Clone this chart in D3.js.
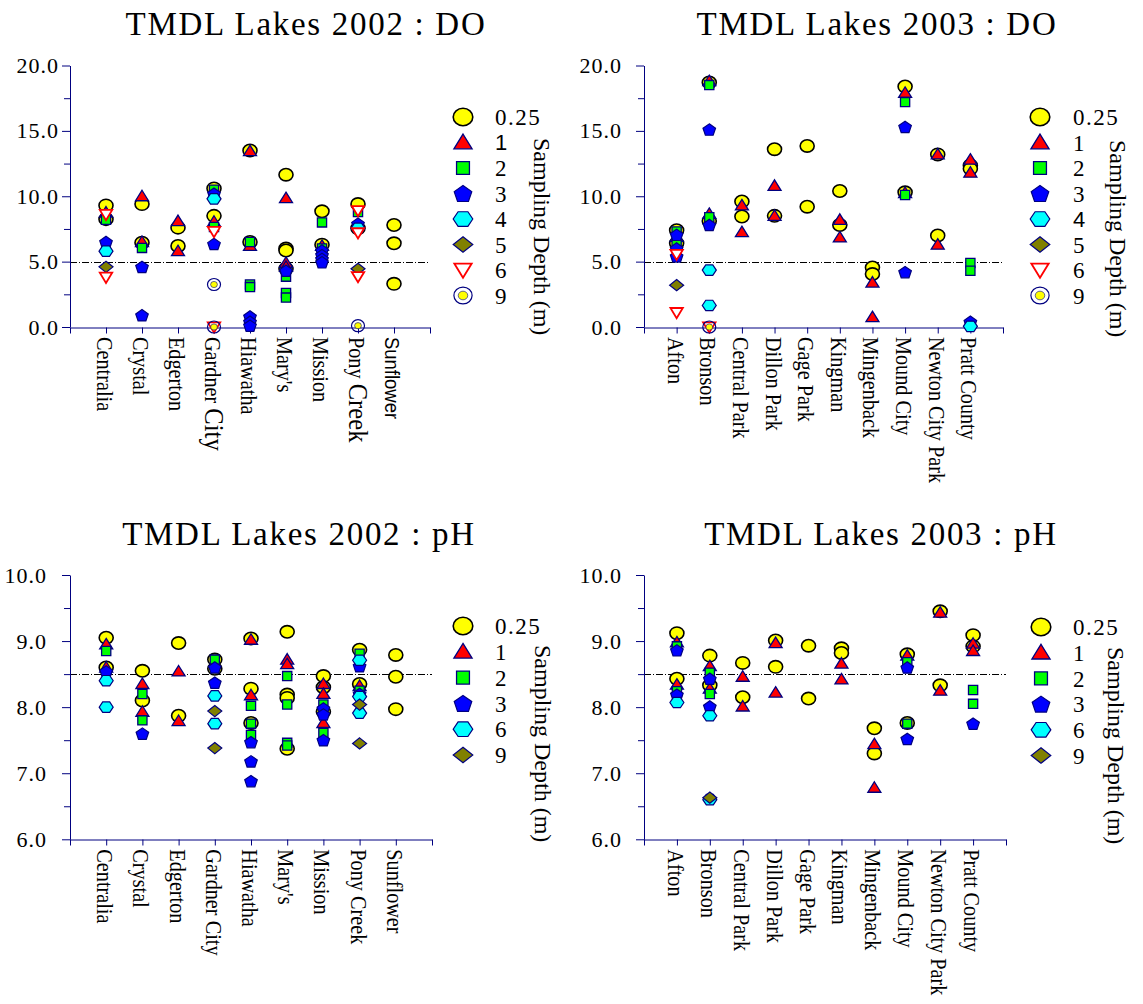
<!DOCTYPE html>
<html>
<head>
<meta charset="utf-8">
<script src="https://cdn.jsdelivr.net/npm/d3@7"></script>
<style>
  body { margin: 0; background: #fff; }
  svg { display: block; }
</style>
</head>
<body>
<svg id="chart" width="1143" height="1004"></svg>
<script>
// ---- categories and depth labels ----
const lakes2002 = ["Centralia", "Crystal", "Edgerton", "Gardner City", "Hiawatha", "Mary's", "Mission", "Pony Creek", "Sunflower"];
const lakes2003 = ["Afton", "Bronson", "Central Park", "Dillon Park", "Gage Park", "Kingman", "Mingenback", "Mound City", "Newton City Park", "Pratt County"];
const doDepths = ["0.25", "1", "2", "3", "4", "5", "6", "9"];
const phDepths = ["0.25", "1", "2", "3", "6", "9"];
const doTicks = [0, 5, 10, 15, 20];
const doMinorTicks = [2.5, 7.5, 12.5, 17.5];
const phTicks = [6, 7, 8, 9, 10];
const phMinorTicks = [6.5, 7.5, 8.5, 9.5];
const doCriterion = 5.0;
const phCriterion = 8.5;

// ---- dissolved oxygen 2002 (mg/L), one list of readings per lake ----
const do02_d025 = [[9.3, 8.25], [9.4, 6.45], [7.6, 6.2], [10.6, 8.5], [13.5, 6.5], [11.65, 6.0, 5.85, 4.45], [8.85, 6.3], [9.4, 7.55], [7.8, 6.4, 3.3]];
const do02_d1   = [[8.75], [10.0, 6.5], [8.1, 5.8], [8.05], [13.45, 6.2], [9.85, 4.9, 4.6], [6.2], [], []];
const do02_d2   = [[8.2], [6.05], [], [10.5, 7.65], [6.5, 3.25, 3.05], [3.85, 2.6, 2.25], [8.0, 6.0], [8.8], []];
const do02_d3   = [[6.5], [4.6, 0.9], [], [10.2, 6.35], [0.8, 0.4, 0.1], [4.3], [5.85, 5.5, 5.2, 4.95], [7.9], []];
const do02_d4   = [[5.8], [], [], [9.8], [], [], [], [7.55], []];
const do02_d5   = [[4.6], [], [], [], [], [], [], [4.45], []];
const do02_d6   = [[8.6, 3.8], [], [], [7.3, 0.0], [], [], [], [8.9, 7.2, 3.85], []];
const do02_d9   = [[], [], [], [3.25, 0.0], [], [], [], [0.1], []];

// ---- dissolved oxygen 2003 (mg/L) ----
const do03_d025 = [[7.4, 6.4], [18.7, 8.1], [9.6, 8.45], [13.6, 8.5], [13.85, 9.2], [10.4, 7.8], [4.55, 4.05], [18.4, 10.3], [13.2, 7.0], [12.35, 12.1]];
const do03_d1   = [[6.9], [18.8, 8.65], [9.3, 7.25], [10.8, 8.5], [], [8.2, 6.85], [3.4, 0.75], [17.9, 10.25], [13.2, 6.3], [12.8, 11.8]];
const do03_d2   = [[7.3, 6.4], [18.5, 8.4], [], [], [], [], [], [17.2, 10.1], [], [4.9, 4.3]];
const do03_d3   = [[7.05, 6.0, 5.4], [15.1, 7.8], [], [], [], [], [], [15.3, 4.2], [], [0.4]];
const do03_d4   = [[], [4.35, 1.65], [], [], [], [], [], [], [], [0.05]];
const do03_d5   = [[3.2], [], [], [], [], [], [], [], [], []];
const do03_d6   = [[5.55, 1.1], [0.0], [], [], [], [], [], [], [], []];
const do03_d9   = [[], [0.0], [], [], [], [], [], [], [], []];

// ---- pH 2002 ----
const ph02_d025 = [[9.05, 8.6], [8.55, 8.1], [8.97, 7.87], [8.72, 8.58], [9.04, 8.28, 7.76], [9.14, 8.19, 8.14, 7.37], [8.47, 8.3, 7.93], [8.87, 8.35], [8.79, 8.46, 7.97]];
const ph02_d1   = [[8.95, 8.6], [8.35, 7.93], [8.54, 7.79], [], [9.02, 8.18], [8.72, 8.65], [8.35, 8.2, 7.76], [8.32], []];
const ph02_d2   = [[8.85], [8.2, 7.8], [], [8.72], [8.02, 7.75, 7.58], [8.47, 8.04, 7.46, 7.42], [8.04, 7.61], [8.81, 8.25], []];
const ph02_d3   = [[8.54], [7.6], [], [8.6, 8.37], [7.47, 7.18, 6.88], [], [7.98, 7.89, 7.5], [8.62, 8.2], []];
const ph02_d6   = [[8.4, 8.0], [], [], [8.17, 7.75], [], [], [], [8.71, 8.16, 7.91], []];
const ph02_d9   = [[], [], [], [7.94, 7.38], [], [], [], [8.04, 7.45], []];

// ---- pH 2003 ----
const ph03_d025 = [[9.12, 8.43], [8.78, 8.33], [8.67, 8.15], [9.01, 8.61], [8.93, 8.13], [8.89, 8.82], [7.68, 7.3], [8.8, 7.76], [9.45, 8.33], [9.09, 8.92]];
const ph03_d1   = [[8.98, 8.34], [8.62, 8.28], [8.46, 8.01], [8.97, 8.22], [], [8.66, 8.42], [7.44, 6.78], [8.78], [9.43, 8.25], [8.96, 8.85]];
const ph03_d2   = [[8.92, 8.24], [8.52, 8.2], [], [], [], [], [], [8.68, 7.75], [], [8.26, 8.05]];
const ph03_d3   = [[8.86, 8.19], [8.43, 8.01], [], [], [], [], [], [8.6, 7.52], [], [7.75]];
const ph03_d6   = [[8.07], [7.87, 6.6], [], [], [], [], [], [], [], []];
const ph03_d9   = [[], [6.63], [], [], [], [], [], [], [], []];

// ---- drawing ----
const SERIF = "'Times New Roman', 'Liberation Serif', serif";
const SANS = "Arial, 'Liberation Sans', sans-serif";
const NAVY = "#000080";

const doShapes = ["circle", "triangle", "square", "pentagon", "hexagon", "diamond", "invtri", "target"];
const phShapes = ["circle", "triangle", "square", "pentagon", "hexagon", "diamond"];

const panels = [
  { title: "TMDL Lakes 2002 : DO", cats: lakes2002, depths: doDepths, shapes: doShapes,
    series: [do02_d025, do02_d1, do02_d2, do02_d3, do02_d4, do02_d5, do02_d6, do02_d9],
    yDomain: [0, 20], yRange: [327, 65.5], ticks: doTicks, minor: doMinorTicks, crit: doCriterion,
    xLeft: 70, xRight: 430, titleX: 306, titleY: 35, tickPad: 3,
    legX: 463, legY: 117, legStep: 25.5, legLabelX: 495, depthX: 534, depthY: 138,
    sansLegend: ["1"], wide: true },
  { title: "TMDL Lakes 2003 : DO", cats: lakes2003, depths: doDepths, shapes: doShapes,
    series: [do03_d025, do03_d1, do03_d2, do03_d3, do03_d4, do03_d5, do03_d6, do03_d9],
    yDomain: [0, 20], yRange: [327, 65.5], ticks: doTicks, minor: doMinorTicks, crit: doCriterion,
    xLeft: 644, xRight: 1003, titleX: 877, titleY: 35, tickPad: 14,
    legX: 1040, legY: 117, legStep: 25.5, legLabelX: 1073, depthX: 1110, depthY: 140,
    sansLegend: ["4"], wide: false },
  { title: "TMDL Lakes 2002 : pH", cats: lakes2002, depths: phDepths, shapes: phShapes,
    series: [ph02_d025, ph02_d1, ph02_d2, ph02_d3, ph02_d6, ph02_d9],
    yDomain: [6, 10], yRange: [839.3, 575], ticks: phTicks, minor: phMinorTicks, crit: phCriterion,
    xLeft: 70, xRight: 432, titleX: 299, titleY: 545, tickPad: 15,
    legX: 463, legY: 626, legStep: 25.8, legLabelX: 495, depthX: 535, depthY: 645,
    sansLegend: [], wide: false },
  { title: "TMDL Lakes 2003 : pH", cats: lakes2003, depths: phDepths, shapes: phShapes,
    series: [ph03_d025, ph03_d1, ph03_d2, ph03_d3, ph03_d6, ph03_d9],
    yDomain: [6, 10], yRange: [839.3, 575], ticks: phTicks, minor: phMinorTicks, crit: phCriterion,
    xLeft: 644, xRight: 1006, titleX: 881, titleY: 545, tickPad: 14,
    legX: 1041, legY: 627, legStep: 25.7, legLabelX: 1073, depthX: 1108, depthY: 647,
    sansLegend: [], wide: false }
];

const svg = d3.select("#chart");
const closed = d3.line().curve(d3.curveLinearClosed);

function ngon(n, rx, ry, startDeg) {
  return d3.range(n).map(i => {
    const a = (startDeg + i * 360 / n) * Math.PI / 180;
    return [rx * Math.cos(a), ry * Math.sin(a)];
  });
}

function scalePts(pts, k) { return pts.map(p => [p[0] * k, p[1] * k]); }

const shapePoints = {
  triangle: [[0, -6], [6.5, 4.5], [-6.5, 4.5]],
  square: [[-4.6, -4.6], [4.6, -4.6], [4.6, 4.6], [-4.6, 4.6]],
  pentagon: ngon(5, 6.6, 6.3, -90).map(p => [p[0], p[1] + 0.6]),
  hexagon: ngon(6, 7, 6, 0),
  diamond: [[0, -5.6], [7, 0], [0, 5.6], [-7, 0]],
  invtri: [[-6.2, -4.6], [6.2, -4.6], [0, 5.6]]
};
const shapeStyle = {
  triangle: { fill: "#ff0000", stroke: NAVY, sw: 1.3 },
  square: { fill: "#00ff00", stroke: NAVY, sw: 1.3 },
  pentagon: { fill: "#0000ff", stroke: NAVY, sw: 1.2 },
  hexagon: { fill: "#00ffff", stroke: NAVY, sw: 1.2 },
  diamond: { fill: "#808000", stroke: NAVY, sw: 1.2 },
  invtri: { fill: "#ffffff", stroke: "#ff0000", sw: 1.8 }
};

function drawSymbol(g, shape, cx, cy, k) {
  if (shape === "circle") {
    g.append("ellipse").attr("cx", cx).attr("cy", cy).attr("rx", 7 * k).attr("ry", 6.2 * k)
      .attr("fill", "#ffff00").attr("stroke", "#000").attr("stroke-width", 1.6);
  } else if (shape === "target") {
    g.append("ellipse").attr("cx", cx).attr("cy", cy).attr("rx", 6.5 * k).attr("ry", 6 * k)
      .attr("fill", "none").attr("stroke", NAVY).attr("stroke-width", 1.2);
    g.append("ellipse").attr("cx", cx).attr("cy", cy).attr("rx", 3.4 * k).attr("ry", 3.1 * k)
      .attr("fill", "#ffff00").attr("stroke", NAVY).attr("stroke-width", 0.6);
  } else {
    const st = shapeStyle[shape];
    g.append("path")
      .attr("transform", `translate(${cx},${cy})`)
      .attr("d", closed(scalePts(shapePoints[shape], k)))
      .attr("fill", st.fill).attr("stroke", st.stroke).attr("stroke-width", st.sw)
      .attr("stroke-linejoin", "miter");
  }
}

function categoryLabel(g, p, name, x, y) {
  const t = g.append("text")
    .attr("transform", `translate(${x},${y}) rotate(90) scale(0.88,1)`)
    .attr("font-family", SERIF).attr("font-size", 23).attr("fill", "#000");
  // the 2002 DO axis mixes in a few larger / sans-serif labels
  if (p.wide && (name === "Gardner City" || name === "Pony Creek")) {
    const parts = name.split(" ");
    t.append("tspan").text(parts[0] + " ");
    t.append("tspan").attr("font-size", 28).text(parts[1]);
  } else if (p.wide && name === "Sunflower") {
    t.attr("font-family", SANS).attr("font-size", 21).text(name);
  } else {
    t.text(name);
  }
}

panels.forEach(p => {
  const g = svg.append("g");
  const n = p.cats.length;
  const x = d3.scaleLinear().domain([0, n + 1]).range([p.xLeft, p.xRight]);
  const y = d3.scaleLinear().domain(p.yDomain).range(p.yRange);
  const yBase = y(p.yDomain[0]);

  // title
  g.append("text").attr("x", p.titleX).attr("y", p.titleY)
    .attr("text-anchor", "middle").attr("font-family", SERIF).attr("font-size", 33)
    .attr("letter-spacing", 1.7).attr("fill", "#000").text(p.title);

  // criterion line
  g.append("line").attr("x1", x(0)).attr("x2", x(n + 1))
    .attr("y1", Math.round(y(p.crit)) + 0.5).attr("y2", Math.round(y(p.crit)) + 0.5)
    .attr("stroke", "#000").attr("stroke-width", 1).attr("stroke-dasharray", "7,2,1,2");

  // y axis: labelled major ticks + minor ticks
  const yAxis = g.append("g").attr("transform", `translate(${p.xLeft},0)`)
    .call(d3.axisLeft(y).tickValues(p.ticks).tickSize(8).tickSizeOuter(0)
      .tickPadding(p.tickPad).tickFormat(d3.format(".1f")));
  yAxis.append("g").call(d3.axisLeft(y).tickValues(p.minor).tickSize(6).tickFormat(""))
    .select(".domain").remove();
  yAxis.selectAll("path, line").attr("stroke", NAVY);
  yAxis.selectAll("text").attr("font-family", SERIF).attr("font-size", 22)
    .attr("letter-spacing", 1).attr("fill", "#000");

  // x axis: ticks at every lake and both ends
  const xAxis = g.append("g").attr("transform", `translate(0,${Math.round(yBase) + 0.5})`)
    .call(d3.axisBottom(x).tickValues(d3.range(0, n + 2)).tickSize(6).tickSizeOuter(0).tickFormat(""));
  xAxis.selectAll("path, line").attr("stroke", NAVY);

  p.cats.forEach((name, i) => categoryLabel(g, p, name, x(i + 1) - 9, yBase + 10));

  // markers, shallow depths first
  const marks = g.append("g");
  p.series.forEach((ser, si) => {
    ser.forEach((vals, ci) => {
      vals.forEach(v => drawSymbol(marks, p.shapes[si], x(ci + 1), y(v), 1));
    });
  });

  // legend
  const leg = g.append("g");
  p.depths.forEach((d, i) => {
    const cy = p.legY + i * p.legStep;
    drawSymbol(leg, p.shapes[i], p.legX, cy, 1.4);
    const sans = p.sansLegend.includes(d);
    leg.append("text").attr("x", p.legLabelX).attr("y", cy).attr("dy", "0.36em")
      .attr("font-family", sans ? SANS : SERIF).attr("font-size", sans ? 22 : 23)
      .attr("letter-spacing", sans ? 0 : 1.5).attr("fill", "#000").text(d);
  });
  leg.append("text")
    .attr("transform", `translate(${p.depthX},${p.depthY}) rotate(90)`)
    .attr("font-family", SERIF).attr("font-size", 24).attr("fill", "#000")
    .text("Sampling Depth (m)");
});
</script>
</body>
</html>
